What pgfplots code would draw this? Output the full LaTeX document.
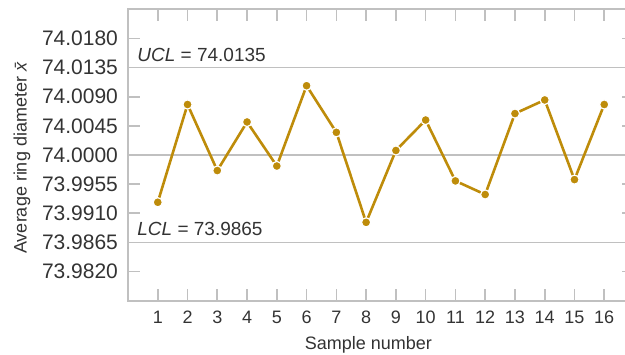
\documentclass[border=0pt]{standalone}
\usepackage{fontspec}
\setmainfont{Liberation Sans}
\usepackage{pgfplots}
\pgfplotsset{compat=1.18}
\definecolor{gold}{RGB}{190,140,10}
\definecolor{axgray}{RGB}{192,192,192}
\definecolor{txt}{RGB}{51,51,51}

\begin{document}
\begin{tikzpicture}
\begin{axis}[
  scale only axis,
  width=253pt, height=145.7pt,
  xmin=0, xmax=17,
  ymin=73.9775, ymax=74.0225,
  xtick={1,...,16},
  ytick={73.9820,73.9865,73.9910,73.9955,74.0000,74.0045,74.0090,74.0135,74.0180},
  yticklabels={73.9820,73.9865,73.9910,73.9955,74.0000,74.0045,74.0090,74.0135,74.0180},
  scaled y ticks=false,
  /pgf/number format/assume math mode=true,
  tick pos=both, tick align=inside,
  major tick length=6pt,
  axis line style={axgray, line width=0.8pt},
  every tick/.style={axgray, line width=0.8pt},
  xticklabel style={font=\fontsize{9}{10}\selectfont, text=txt, yshift=-1.5pt},
  yticklabel style={font=\fontsize{10.5}{12}\selectfont, text=txt, xshift=-1.5pt},
  xlabel={Sample number},
  xlabel style={font=\fontsize{9}{10}\selectfont, text=txt,
    at={(axis description cs:0.475,0)}, anchor=base, yshift=-24.6pt},
  ylabel={Average ring diameter \textit{\=x}},
  ylabel style={font=\fontsize{9}{10}\selectfont, text=txt,
    at={(axis description cs:0,0.493)}, anchor=center, yshift=53pt},
]
% control limits and centre line
\addplot[axgray, line width=0.8pt, forget plot] coordinates {(0,74.0135) (17,74.0135)};
\addplot[axgray, line width=0.8pt, forget plot] coordinates {(0,74.0000) (17,74.0000)};
\addplot[axgray, line width=0.8pt, forget plot] coordinates {(0,73.9865) (17,73.9865)};

\addplot[gold, line width=1.3pt, mark=*, mark size=2.3pt,
  mark options={fill=gold, draw=white, line width=0.6pt}] coordinates {
  (1,73.9927) (2,74.0078) (3,73.9976) (4,74.0051)
  (5,73.9983) (6,74.0107) (7,74.0035) (8,73.9896)
  (9,74.0007) (10,74.0054) (11,73.9960) (12,73.9939)
  (13,74.0064) (14,74.0085) (15,73.9962) (16,74.0078)
};

\node[anchor=base west, inner sep=0, text=txt, font=\fontsize{9.5}{11}\selectfont,
  xshift=4.5pt, yshift=3pt] at (axis cs:0,74.0135) {\textit{UCL} = 74.0135};
\node[anchor=base west, inner sep=0, text=txt, font=\fontsize{9.5}{11}\selectfont,
  xshift=4.5pt, yshift=3.3pt] at (axis cs:0,73.9865) {\textit{LCL} = 73.9865};

\coordinate (O) at (rel axis cs:0,0);
\end{axis}
\pgfresetboundingbox
\useasboundingbox ([shift={(-64pt,-26.65pt)}]O) rectangle ++(312.5pt,177pt);
\end{tikzpicture}
\end{document}
